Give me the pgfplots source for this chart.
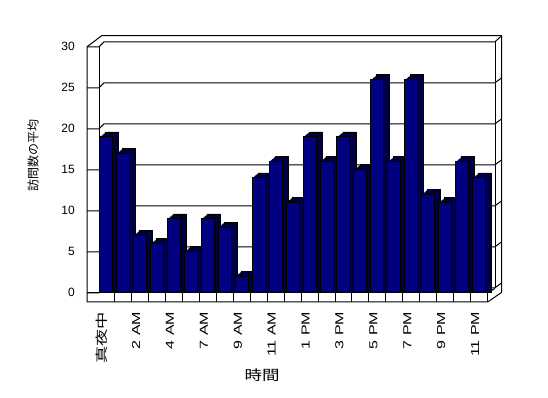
\documentclass[border=0pt]{standalone}
\usepackage{pgfplots}
\pgfplotsset{compat=1.18}
\usepackage{pgfplotstable}
\usepackage{graphicx}
\usepackage{fontspec}
\setmainfont{Liberation Sans}
\newfontfamily\cjk{Noto Sans CJK JP}
\definecolor{barfront}{RGB}{0,0,128}
\definecolor{barside}{RGB}{0,0,64}
\pgfplotstableread{
x v
0 19
1 17
2 7
3 6
4 9
5 5
6 9
7 8
8 2
9 14
10 16
11 11
12 19
13 16
14 19
15 15
16 26
17 16
18 26
19 12
20 11
21 16
22 14
}\visits
\newcommand\xl[1]{\scalebox{1.38}[1]{#1}}
\newcommand\xj[1]{\scalebox{1.38}[1]{\cjk\fontsize{12.5bp}{14bp}\selectfont #1}}
\begin{document}
\begin{tikzpicture}
\useasboundingbox (0,0) rectangle (548bp,398bp);
\begin{scope}[x=1bp,y=-1bp,shift={(0,-398)},line width=1bp]
  \filldraw[fill=white] (87,302) -- (87,46.8) -- (101.7,35.7) -- (501.7,35.7) -- (501.7,292.3) -- (487.7,302) -- cycle;
  \draw (87,46.8) -- (99,46.8) -- (104,41.8) -- (495,41.8) -- (501.7,35.7);
  \draw (99,46.8) -- (99,292.8);
  \draw (495,41.8) -- (495,288.5);
  \foreach \v in {0,5,...,25} {
    \pgfmathsetmacro\yf{292.8-8.2*\v}
    \draw (87,\yf) -- (99,\yf) -- (104,\yf-5) -- (495,\yf-5) -- (501.7,\yf-10);
  }
  \draw (87,292.8) -- (487.7,292.8) -- (487.7,302);
  \draw (487.7,292.8) -- (495,288.5);
  \foreach \k in {1,...,22} {
    \draw ({97.7+16.95*\k},292.8) -- ({97.7+16.95*\k},302);
  }
  \node[rotate=90,font=\cjk\fontsize{12bp}{14bp}\selectfont] at (33,155) {訪問数の平均};
  \node[font=\cjk\fontsize{14bp}{16bp}\selectfont] at (262,375) {\scalebox{1.25}[1]{時間}};
\end{scope}
\begin{axis}[
  at={(97.7bp,96bp)}, anchor=south west,
  scale only axis, width=389.85bp, height=255.2bp,
  xmin=-0.5, xmax=22.5, ymin=-1.122, ymax=30,
  clip=false,
  axis line style={draw=none},
  major tick length=0pt,
  tick style={draw=none},
  ytick={0,5,...,30},
  yticklabels={0,5,10,15,20,25,30},
  yticklabel style={anchor=east, inner ysep=0pt, inner xsep=0pt, xshift=-22.7bp, font=\fontsize{12bp}{14bp}\selectfont},
  xtick={0,2,...,22},
  xticklabels={\xj{真夜中},\xl{2 AM},\xl{4 AM},\xl{7 AM},\xl{9 AM},\xl{11 AM},\xl{1 PM},\xl{3 PM},\xl{5 PM},\xl{7 PM},\xl{9 PM},\xl{11 PM}},
  xticklabel style={rotate=90, anchor=base east, inner ysep=0pt, inner xsep=9.7bp, font=\fontsize{11.6bp}{13bp}\selectfont},
]
\addplot[ybar, bar width=13bp, bar shift=1bp, fill=barside, draw=none] table[x=x, y expr=\thisrow{v}+0.1016] {\visits};
\addplot[ybar, bar width=13bp, bar shift=2bp, fill=barside, draw=none] table[x=x, y expr=\thisrow{v}+0.2032] {\visits};
\addplot[ybar, bar width=13bp, bar shift=3bp, fill=barside, draw=none] table[x=x, y expr=\thisrow{v}+0.3048] {\visits};
\addplot[ybar, bar width=13bp, bar shift=4bp, fill=barside, draw=none] table[x=x, y expr=\thisrow{v}+0.4064] {\visits};
\addplot[ybar, bar width=13bp, bar shift=5bp, fill=barside, draw=none] table[x=x, y expr=\thisrow{v}+0.5080] {\visits};
\addplot[ybar, bar width=13bp, bar shift=6bp, fill=barside, draw=black, line width=0.8bp] table[x=x, y expr=\thisrow{v}+0.6096] {\visits};
\addplot[ybar, bar width=13bp, bar shift=0pt, fill=barfront, draw=black, line width=1bp] table[x=x, y=v] {\visits};
\end{axis}
\end{tikzpicture}
\end{document}
